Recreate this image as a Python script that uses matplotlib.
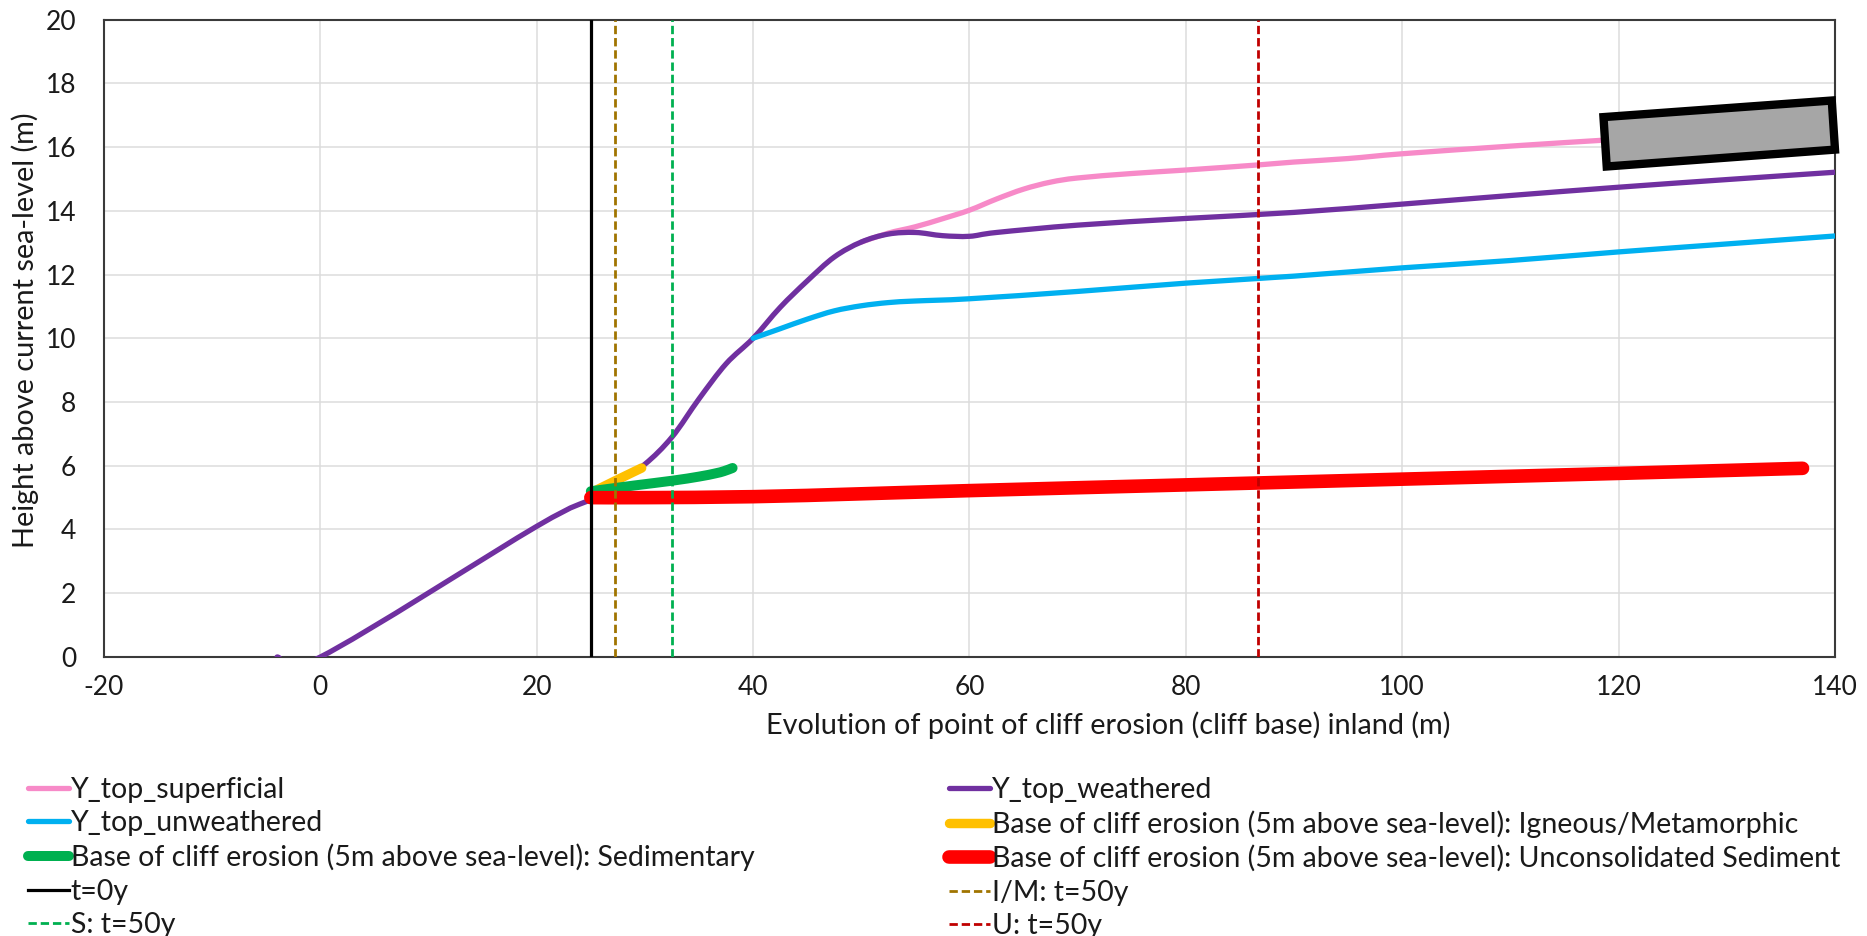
import matplotlib
matplotlib.use("Agg")
import matplotlib.pyplot as plt
from matplotlib.patches import Polygon, PathPatch
from matplotlib.path import Path
from matplotlib.lines import Line2D

plt.rcParams['font.family'] = ['Lato', 'DejaVu Sans']
plt.rcParams['axes.unicode_minus'] = False

# ---------------- data ----------------
sup_x = [50, 52.5, 55, 57.5, 60, 62.5, 65, 67.5, 70, 75, 80, 86.7, 90, 95, 100, 110, 118.8]
sup_y = [13.02, 13.3, 13.5, 13.75, 14.02, 14.37, 14.68, 14.9, 15.03, 15.17, 15.28, 15.44, 15.53, 15.64, 15.79, 16.03, 16.22]

wea_x = [-4, 0, 20, 25, 27.5, 30, 32.5, 35, 37.5, 40, 42.5, 45, 47.5, 50, 52.5, 55, 57.5, 60, 62.5, 70, 80, 90, 100, 110, 120, 130, 140]
wea_y = [0, 0, 4.1, 4.95, 5.5, 6.05, 6.9, 8.1, 9.2, 10.0, 10.97, 11.8, 12.55, 13.02, 13.27, 13.32, 13.22, 13.2, 13.32, 13.55, 13.76, 13.95, 14.21, 14.48, 14.74, 14.98, 15.21]

unw_x = [40, 42.5, 45, 47.5, 50, 52.5, 55, 60, 70, 80, 90, 100, 110, 120, 130, 140]
unw_y = [10.0, 10.3, 10.6, 10.86, 11.02, 11.12, 11.17, 11.24, 11.47, 11.73, 11.95, 12.21, 12.44, 12.71, 12.96, 13.21]

ign_x = [25, 27.2, 29.7]
ign_y = [5.15, 5.52, 5.93]

sed_x = [25, 29, 32.5, 35, 36.5, 37.3, 38.1]
sed_y = [5.2, 5.38, 5.53, 5.66, 5.76, 5.83, 5.93]

unc_x = [25, 30, 40, 50, 60, 80, 100, 120, 137]
unc_y = [5.0, 5.0, 5.03, 5.12, 5.22, 5.4, 5.58, 5.76, 5.92]

t0_x = 25
im_x = 27.2
s_x = 32.5
u_x = 86.7

box_x = [118.6, 139.7, 140.0, 118.9]
box_y = [16.94, 17.46, 15.92, 15.39]

xticks = list(range(-20, 141, 20))
yticks = list(range(0, 21, 2))

labels = ["Y_top_superficial", "Y_top_weathered", "Y_top_unweathered",
          "Base of cliff erosion (5m above sea-level): Igneous/Metamorphic",
          "Base of cliff erosion (5m above sea-level): Sedimentary",
          "Base of cliff erosion (5m above sea-level): Unconsolidated Sediment",
          "t=0y", "I/M: t=50y", "S: t=50y", "U: t=50y"]


def smooth_path(xs, ys):
    """Excel-style smoothed line: Bezier segments through the data points."""
    pts = list(zip(xs, ys))
    n = len(pts)
    verts = [pts[0]]
    codes = [Path.MOVETO]
    for i in range(n - 1):
        p0 = pts[i - 1] if i > 0 else pts[i]
        p1 = pts[i]
        p2 = pts[i + 1]
        p3 = pts[i + 2] if i + 2 < n else pts[i + 1]
        c1 = (p1[0] + (p2[0] - p0[0]) / 6.0, p1[1] + (p2[1] - p0[1]) / 6.0)
        c2 = (p2[0] - (p3[0] - p1[0]) / 6.0, p2[1] - (p3[1] - p1[1]) / 6.0)
        verts += [c1, c2, p2]
        codes += [Path.CURVE4] * 3
    return Path(verts, codes)


# ---------------- figure ----------------
TXT = '#1a1a1a'
FS_TICK = 19
FS_LAB = 20.8
FS_LEG = 20.5
fig = plt.figure(figsize=(18.67, 9.36), dpi=100)
ax = fig.add_axes([0.0557, 0.2981, 0.92716, 0.68098])

ax.set_xlim(-20, 140)
ax.set_ylim(0, 20)
ax.set_xticks(xticks)
ax.set_yticks(yticks)
ax.grid(True, color='#dcdcdc', lw=1.1, zorder=0)
ax.set_axisbelow(True)
for sp in ax.spines.values():
    sp.set_color('#3a3a3a')
    sp.set_linewidth(1.5)
ax.tick_params(length=0, labelsize=FS_TICK, colors=TXT, pad=13)
ax.tick_params(axis='y', pad=20)

series = [
    (sup_x, sup_y, '#f78ac8', 3.8, 3),
    (wea_x, wea_y, '#7030a0', 3.8, 4),
    (unw_x, unw_y, '#00b0f0', 3.8, 4),
    (ign_x, ign_y, '#ffc000', 6.8, 5),
    (sed_x, sed_y, '#00b050', 7.2, 5),
    (unc_x, unc_y, '#ff0000', 9.8, 6),
]
handles = []
for xs, ys, c, lw, z in series:
    patch = PathPatch(smooth_path(xs, ys), fill=False, edgecolor=c, lw=lw,
                      capstyle='round', joinstyle='round', zorder=z)
    ax.add_patch(patch)
    handles.append(Line2D([], [], color=c, lw=lw, solid_capstyle='round'))

dash = (0, (3, 1.4))
h_t0 = ax.axvline(t0_x, color='black', lw=2.3, zorder=7)
h_im = ax.axvline(im_x, color='#a07400', lw=2.0, ls=dash, zorder=7)
h_s = ax.axvline(s_x, color='#00b050', lw=2.0, ls=dash, zorder=7)
h_u = ax.axvline(u_x, color='#c00000', lw=2.0, ls=dash, zorder=7)
handles += [h_t0, h_im, h_s, h_u]

box = Polygon(list(zip(box_x, box_y)), closed=True, facecolor='#a6a6a6',
              edgecolor='black', lw=6, joinstyle='miter', zorder=8, clip_on=False)
ax.add_patch(box)

ax.set_xlabel("Evolution of point of cliff erosion (cliff base) inland (m)",
              fontsize=FS_LAB, color=TXT)
ax.xaxis.label.set_va('center')
ax.xaxis.set_label_coords(0.580, -0.1067)
ax.set_ylabel("Height above current sea-level (m)", fontsize=FS_LAB, color=TXT)
ax.yaxis.label.set_va('center')
ax.yaxis.set_label_coords(-0.0456, 0.513)

left_idx = [0, 2, 4, 6, 8]
right_idx = [1, 3, 5, 7, 9]
lkw = dict(loc='upper left', frameon=False, fontsize=FS_LEG, handlelength=1.45,
           handletextpad=0.05, labelspacing=0.26, borderpad=0, borderaxespad=0,
           labelcolor=TXT)
leg1 = fig.legend([handles[i] for i in left_idx], [labels[i] for i in left_idx],
                  bbox_to_anchor=(0.015, 0.170), **lkw)
leg2 = fig.legend([handles[i] for i in right_idx], [labels[i] for i in right_idx],
                  bbox_to_anchor=(0.5083, 0.170), **lkw)

fig.savefig("out.png", dpi=100)
